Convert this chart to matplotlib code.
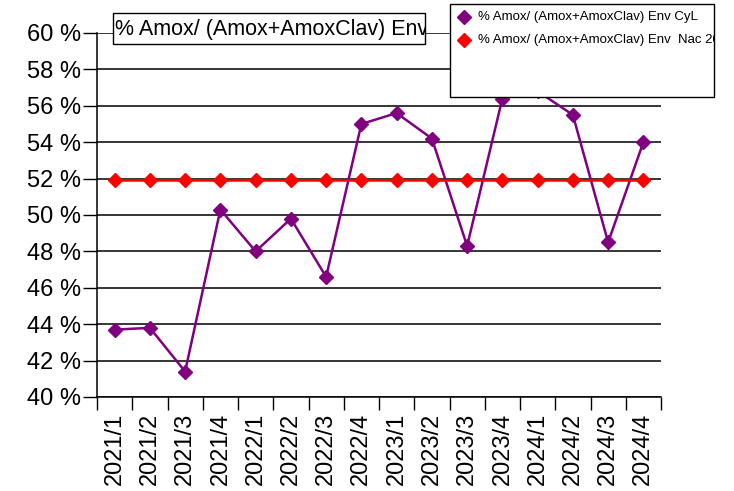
import matplotlib
matplotlib.use("Agg")
import matplotlib.pyplot as plt
from matplotlib.patches import Rectangle
from matplotlib.lines import Line2D
from matplotlib.ticker import FixedLocator

plt.rcParams["font.family"] = ["Liberation Sans", "DejaVu Sans"]

# data
quarters = ["2021/1", "2021/2", "2021/3", "2021/4",
            "2022/1", "2022/2", "2022/3", "2022/4",
            "2023/1", "2023/2", "2023/3", "2023/4",
            "2024/1", "2024/2", "2024/3", "2024/4"]
cyl = [43.7, 43.8, 41.4, 50.3, 48.0, 49.8, 46.6, 55.0,
       55.6, 54.2, 48.3, 56.4, 56.8, 55.5, 48.5, 54.0]
nac = [51.9] * 16
title_text = "% Amox/ (Amox+AmoxClav) Env"
legend_labels = ["% Amox/ (Amox+AmoxClav) Env CyL",
                 "% Amox/ (Amox+AmoxClav) Env  Nac 2021"]

W, H = 734, 491
fig = plt.figure(figsize=(W / 100, H / 100), dpi=100)
fig.patch.set_facecolor("white")

# axes box in pixels: x 97..661, y 33..397 (from top)
ax = fig.add_axes([97 / W, (H - 397) / H, 564 / W, 364 / H])
x = list(range(len(quarters)))

ax.plot(x, cyl, color="#800080", lw=1.8, marker="D", ms=7.5, zorder=3, clip_on=False)
ax.plot(x, nac, color="#FF0000", lw=1.8, marker="D", ms=7.5, zorder=3, clip_on=False)

ax.set_xlim(-0.5, len(quarters) - 0.5)
ax.set_ylim(40, 60)
ax.set_yticks(range(40, 61, 2))
ax.set_yticklabels([f"{v} %" for v in range(40, 61, 2)], fontsize=17)
ax.yaxis.grid(True, color="black", lw=1.1)
ax.set_axisbelow(True)

# category labels in the middle, tick marks between categories
ax.set_xticks(x)
ax.set_xticklabels(quarters, rotation=90, fontsize=17)
ax.tick_params(axis="x", which="major", length=0, pad=11)
ax.xaxis.set_minor_locator(FixedLocator([i - 0.5 for i in range(len(quarters) + 1)]))
ax.tick_params(axis="x", which="minor", length=9.5, width=1, color="black")
ax.tick_params(axis="y", length=10, width=1, pad=1.5)

for s in ["top", "right"]:
    ax.spines[s].set_visible(False)
ax.spines["left"].set_linewidth(1.1)
ax.spines["bottom"].set_linewidth(1.1)

# title box, text cut at the box edge
tbox = Rectangle((113 / W, 1 - 44 / H), (425 - 113) / W, 31 / H,
                 transform=fig.transFigure, facecolor="white", edgecolor="black",
                 lw=1, zorder=10)
fig.add_artist(tbox)
t = fig.text(115 / W, 1 - 29 / H, title_text, fontsize=15.5, va="center", ha="left",
             zorder=11)
t.set_clip_path(tbox)

# legend box drawn over the plot, text cut on the right
lbox = Rectangle((450 / W, 1 - 97 / H), (714 - 450) / W, 93 / H,
                 transform=fig.transFigure, facecolor="white", edgecolor="black",
                 lw=1, zorder=10)
fig.add_artist(lbox)
for i, (lab, col) in enumerate(zip(legend_labels, ["#800080", "#FF0000"])):
    yy = 1 - (17 + 23 * i) / H
    fig.add_artist(Line2D([464 / W], [yy], transform=fig.transFigure, marker="D",
                          ms=7.5, color=col, lw=0, zorder=11))
    lt = fig.text(478 / W, yy, lab, fontsize=9.5, va="center", ha="left", zorder=11)
    lt.set_clip_path(lbox)

fig.savefig("out.png", dpi=100)
